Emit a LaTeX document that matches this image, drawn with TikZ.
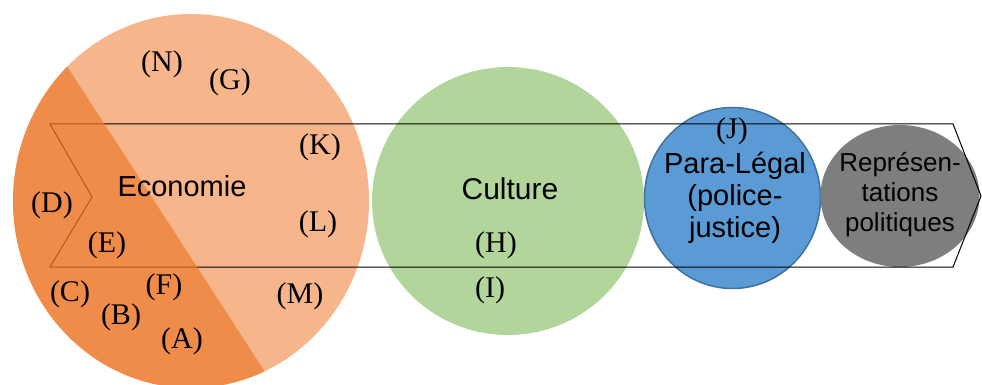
\documentclass[tikz,border=0pt]{standalone}
\usepackage{fontspec}
\setmainfont{Liberation Serif}
\setsansfont{Liberation Sans}
\usetikzlibrary{shapes.geometric}
\definecolor{orLight}{RGB}{246,181,138}
\definecolor{orDark}{RGB}{237,125,49}
\definecolor{grn}{RGB}{178,213,155}
\definecolor{blu}{RGB}{91,155,213}
\definecolor{bluEdge}{RGB}{65,113,156}
\definecolor{gry}{RGB}{126,126,126}
\tikzset{
  blob/.style={ellipse, inner sep=0pt, outer sep=0pt, draw=none},
  lbl/.style={font=\fontsize{30}{32}\selectfont, inner sep=0pt},
  big/.style={font=\sffamily\fontsize{29}{32}\selectfont, inner sep=0pt, align=center},
  chev/.style={draw=black, line width=1pt, line join=miter}
}
\begin{document}
\begin{tikzpicture}[x=1pt,y=-1pt]
\useasboundingbox (0,0) rectangle (982,385);
\clip (0,0) rectangle (982,385);
% circles
\node (eco) [blob, fill=orLight, minimum width=356pt, minimum height=374pt] at (191,201) {};
\node (cul) [blob, fill=grn, minimum width=272pt, minimum height=268pt] at (508,201) {};
\node (par) [blob, fill=blu, draw=bluEdge, line width=1.5pt, minimum width=176pt, minimum height=181pt] at (732.5,198) {};
\node (rep) [blob, fill=gry, minimum width=159pt, minimum height=142pt] at (900,196) {};
% chevron
\draw[chev] (50,124) -- (953,124) -- (981,196) -- (953,267) -- (50,267) -- (92,197) -- cycle;
% dark part of the orange circle
\begin{scope}
  \clip (191,201) ellipse [x radius=178, y radius=187];
  \fill[orDark, opacity=0.72] (-40,-99) -- (368,531) -- (-100,531) -- (-100,-99) -- cycle;
\end{scope}
% texts
\node (tEco) [big, anchor=base] at (182,196) {Economie};
\node (tCul) [big, anchor=base, font=\sffamily\fontsize{30}{32}\selectfont] at (510,199) {Culture};
\node (tPar) [big] at (735,198) {Para-Légal\\(police-\\justice)};
\node (tRep) [big, font=\sffamily\fontsize{26}{30}\selectfont] at (900,195) {Représen-\\tations\\politiques};
\node (lN) [lbl] at (162,64) {(N)};
\node (lG) [lbl] at (230,82) {(G)};
\node (lK) [lbl] at (320,147) {(K)};
\node (lD) [lbl] at (52,205) {(D)};
\node (lL) [lbl] at (318,224) {(L)};
\node (lE) [lbl] at (107,245) {(E)};
\node (lC) [lbl] at (70,294) {(C)};
\node (lF) [lbl] at (164,287) {(F)};
\node (lM) [lbl] at (300,296) {(M)};
\node (lB) [lbl] at (121,317) {(B)};
\node (lA) [lbl] at (182,341) {(A)};
\node (lH) [lbl] at (496,245) {(H)};
\node (lI) [lbl] at (490,290) {(I)};
\node (lJ) [lbl] at (732,131) {(J)};
\end{tikzpicture}
\end{document}
